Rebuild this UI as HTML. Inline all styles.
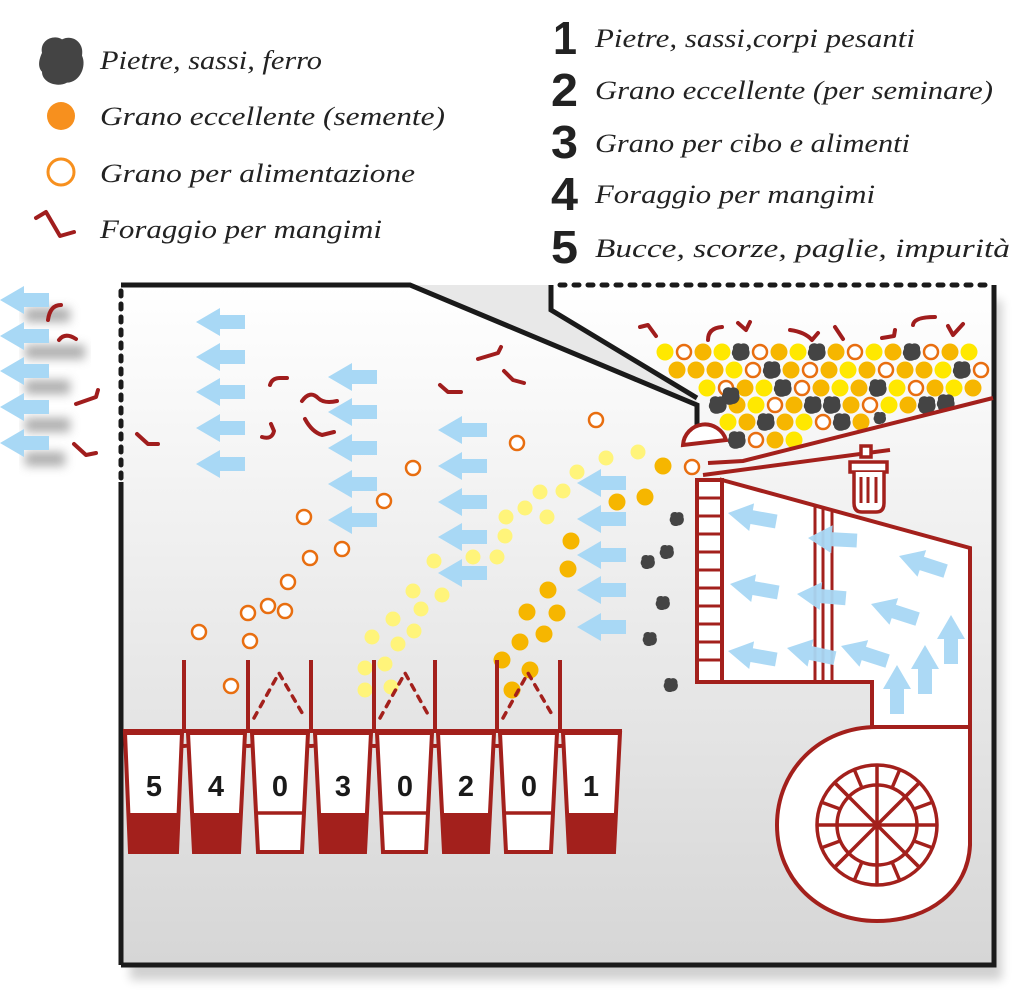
<!DOCTYPE html>
<html><head><meta charset="utf-8"><style>
html,body{margin:0;padding:0;background:#fff;}
svg{display:block;}
.y{fill:#ffe800}.g{fill:#f6b600}.o{fill:#fff;stroke:#e86e10;stroke-width:2.5}.ly{fill:#fff47a}
.lt{font-family:"Liberation Serif",serif;font-style:italic;font-size:26px;fill:#222}
.num{font-family:"Liberation Sans",sans-serif;font-weight:bold;font-size:46px;fill:#222}
.bn{font-family:"Liberation Sans",sans-serif;font-weight:bold;font-size:29px;fill:#1a1a1a}
.sq{fill:none;stroke:#a01d1d;stroke-width:4;stroke-linecap:round;stroke-linejoin:round}
.r{fill:none;stroke:#a3201c;stroke-width:4}
</style></head><body>
<svg width="1024" height="1000" viewBox="0 0 1024 1000" xmlns="http://www.w3.org/2000/svg">
<defs>
<linearGradient id="bg" x1="0" y1="0" x2="0" y2="1"><stop offset="0" stop-color="#ffffff"/><stop offset="1" stop-color="#d6d6d6"/></linearGradient>
<path id="st" d="M-8,-3 C-9,-8 -3,-10 0,-8 C4,-10 9,-7 8,-2 C10,2 7,8 2,8 C-2,10 -8,8 -8,4 C-10,2 -9,-1 -8,-3Z" fill="#444"/>
<path id="ar" d="M0,0 L24,-14 L24,-7 L49,-7 L49,7 L24,7 L24,14 Z" fill="#a8d8f5"/>
<filter id="bl"><feGaussianBlur stdDeviation="5"/></filter>
</defs>
<rect x="130" y="300" width="872" height="680" fill="#000" opacity="0.18" filter="url(#bl)"/>
<rect x="121" y="285" width="873" height="680" fill="url(#bg)"/>
<path d="M410,285 L551,285 L551,310 L697,398 L697,430 L697,405 Z" fill="#e8e8e8"/>
<path d="M121,965 L121,482" stroke="#1a1a1a" stroke-width="5" fill="none"/>
<path d="M121,478 L121,287" stroke="#1a1a1a" stroke-width="5" stroke-dasharray="5 8" stroke-linecap="round" fill="none"/>
<path d="M121,285 L410,285 L697,405 L697,432" stroke="#1a1a1a" stroke-width="5" fill="none"/>
<path d="M551,285 L551,310 L697,398" stroke="#1a1a1a" stroke-width="5" fill="none"/>
<path d="M560,285 L990,285" stroke="#1a1a1a" stroke-width="5" stroke-dasharray="5 9" stroke-linecap="round" fill="none"/>
<path d="M994,285 L994,965 L121,965" stroke="#1a1a1a" stroke-width="5" fill="none"/>

<use href="#st" transform="translate(62,61) scale(2.5,2.7)"/>
<circle cx="61" cy="116" r="14" fill="#f7901e"/>
<circle cx="61" cy="172" r="13" fill="#fff" stroke="#f7901e" stroke-width="3"/>
<path class="sq" d="M36,218 L46,212 L60,236 L74,232" />
<text class="lt" x="100" y="69" textLength="222" lengthAdjust="spacingAndGlyphs">Pietre, sassi, ferro</text>
<text class="lt" x="100" y="125" textLength="345" lengthAdjust="spacingAndGlyphs">Grano eccellente (semente)</text>
<text class="lt" x="100" y="182" textLength="315" lengthAdjust="spacingAndGlyphs">Grano per alimentazione</text>
<text class="lt" x="100" y="238" textLength="282" lengthAdjust="spacingAndGlyphs">Foraggio per mangimi</text>
<text class="num" x="553" y="54" textLength="24" lengthAdjust="spacingAndGlyphs">1</text><text class="lt" x="595" y="47" textLength="320" lengthAdjust="spacingAndGlyphs">Pietre, sassi,corpi pesanti</text>
<text class="num" x="551" y="106" textLength="27" lengthAdjust="spacingAndGlyphs">2</text><text class="lt" x="595" y="99" textLength="398" lengthAdjust="spacingAndGlyphs">Grano eccellente (per seminare)</text>
<text class="num" x="551" y="158" textLength="27" lengthAdjust="spacingAndGlyphs">3</text><text class="lt" x="595" y="152" textLength="315" lengthAdjust="spacingAndGlyphs">Grano per cibo e alimenti</text>
<text class="num" x="551" y="210" textLength="27" lengthAdjust="spacingAndGlyphs">4</text><text class="lt" x="595" y="203" textLength="280" lengthAdjust="spacingAndGlyphs">Foraggio per mangimi</text>
<text class="num" x="551" y="263" textLength="27" lengthAdjust="spacingAndGlyphs">5</text><text class="lt" x="595" y="257" textLength="415" lengthAdjust="spacingAndGlyphs">Bucce, scorze, paglie, impurità</text>

<g filter="url(#bl)" fill="#999" opacity="0.8">
<rect x="25" y="308" width="45" height="14"/><rect x="25" y="345" width="60" height="14"/><rect x="25" y="380" width="45" height="14"/><rect x="25" y="418" width="45" height="14"/><rect x="25" y="452" width="40" height="14"/>
</g>
<use href="#ar" x="0" y="300"/><use href="#ar" x="0" y="336"/><use href="#ar" x="0" y="371"/><use href="#ar" x="0" y="407"/><use href="#ar" x="0" y="443"/>
<path class="sq" d="M48,320 Q50,305 61,305"/><path class="sq" d="M59,340 Q65,332 76,339"/><path class="sq" d="M76,404 L96,397 L98,390"/><path class="sq" d="M74,444 L86,455 L96,453"/>
<path class="sq" d="M137,434 L148,444 L158,444"/>

<use href="#ar" x="196" y="322"/><use href="#ar" x="196" y="357"/><use href="#ar" x="196" y="392"/><use href="#ar" x="196" y="428"/><use href="#ar" x="196" y="464"/>
<use href="#ar" x="328" y="377"/><use href="#ar" x="328" y="412"/><use href="#ar" x="328" y="448"/><use href="#ar" x="328" y="484"/><use href="#ar" x="328" y="520"/>
<use href="#ar" x="438" y="430"/><use href="#ar" x="438" y="466"/><use href="#ar" x="438" y="502"/><use href="#ar" x="438" y="537"/><use href="#ar" x="438" y="573"/>
<use href="#ar" x="577" y="483"/><use href="#ar" x="577" y="519"/><use href="#ar" x="577" y="555"/><use href="#ar" x="577" y="590"/><use href="#ar" x="577" y="627"/>

<path class="sq" d="M270,385 Q272,378 280,378 L287,378"/><path class="sq" d="M302,401 Q310,390 318,398 Q324,404 337,401"/>
<path class="sq" d="M262,437 Q272,440 274,431 L271,424"/><path class="sq" d="M305,419 Q312,432 322,435 L334,432"/>
<path class="sq" d="M440,385 L448,392 L461,392"/><path class="sq" d="M478,359 L498,353 L501,347"/><path class="sq" d="M504,371 L513,380 L524,383"/>

<g class="o">
<circle cx="199" cy="632" r="7"/><circle cx="231" cy="686" r="7"/><circle cx="250" cy="641" r="7"/><circle cx="248" cy="613" r="7"/><circle cx="268" cy="606" r="7"/><circle cx="285" cy="611" r="7"/><circle cx="288" cy="582" r="7"/><circle cx="310" cy="558" r="7"/><circle cx="342" cy="549" r="7"/><circle cx="304" cy="517" r="7"/><circle cx="384" cy="501" r="7"/><circle cx="413" cy="468" r="7"/><circle cx="517" cy="443" r="7"/><circle cx="596" cy="420" r="7"/><circle cx="692" cy="467" r="7"/>
</g>
<g class="ly">
<circle cx="638" cy="452" r="7.5"/><circle cx="606" cy="458" r="7.5"/><circle cx="577" cy="472" r="7.5"/><circle cx="563" cy="491" r="7.5"/><circle cx="540" cy="492" r="7.5"/><circle cx="525" cy="508" r="7.5"/><circle cx="547" cy="517" r="7.5"/><circle cx="506" cy="517" r="7.5"/><circle cx="505" cy="536" r="7.5"/><circle cx="497" cy="557" r="7.5"/><circle cx="473" cy="557" r="7.5"/><circle cx="434" cy="561" r="7.5"/><circle cx="413" cy="591" r="7.5"/><circle cx="442" cy="595" r="7.5"/><circle cx="421" cy="609" r="7.5"/><circle cx="393" cy="619" r="7.5"/><circle cx="414" cy="631" r="7.5"/><circle cx="398" cy="644" r="7.5"/><circle cx="385" cy="664" r="7.5"/><circle cx="391" cy="687" r="7.5"/><circle cx="372" cy="637" r="7.5"/><circle cx="365" cy="668" r="7.5"/><circle cx="365" cy="690" r="7.5"/>
</g>
<g class="g">
<circle cx="663" cy="466" r="8.5"/><circle cx="617" cy="502" r="8.5"/><circle cx="645" cy="497" r="8.5"/><circle cx="571" cy="541" r="8.5"/><circle cx="568" cy="569" r="8.5"/><circle cx="548" cy="590" r="8.5"/><circle cx="527" cy="612" r="8.5"/><circle cx="557" cy="613" r="8.5"/><circle cx="544" cy="634" r="8.5"/><circle cx="520" cy="642" r="8.5"/><circle cx="502" cy="660" r="8.5"/><circle cx="530" cy="670" r="8.5"/><circle cx="512" cy="690" r="8.5"/>
</g>
<use href="#st" transform="translate(677,519) scale(0.8)"/><use href="#st" transform="translate(667,552) scale(0.8)"/><use href="#st" transform="translate(648,562) scale(0.8)"/><use href="#st" transform="translate(663,603) scale(0.8)"/><use href="#st" transform="translate(650,639) scale(0.8)"/><use href="#st" transform="translate(671,685) scale(0.8)"/>

<g class="sq">
<path d="M640,327 L648,325 L656,336"/><path d="M708,340 Q708,328 722,327"/><path d="M738,323 L746,330 L750,322"/><path d="M790,330 Q805,332 812,340 L818,333"/><path d="M835,327 L843,339"/><path d="M882,338 L894,336 L895,330"/><path d="M913,325 Q914,317 935,317"/><path d="M948,326 L953,335 L963,324"/>
</g>
<g class="y"><circle cx="665" cy="352" r="8.5"/><circle cx="722" cy="352" r="8.5"/><circle cx="798" cy="352" r="8.5"/><circle cx="874" cy="352" r="8.5"/><circle cx="969" cy="352" r="8.5"/>
<circle cx="734" cy="370" r="8.5"/><circle cx="848" cy="370" r="8.5"/><circle cx="943" cy="370" r="8.5"/>
<circle cx="707" cy="388" r="8.5"/><circle cx="764" cy="388" r="8.5"/><circle cx="840" cy="388" r="8.5"/><circle cx="897" cy="388" r="8.5"/><circle cx="954" cy="388" r="8.5"/>
<circle cx="756" cy="405" r="8.5"/><circle cx="889" cy="405" r="8.5"/>
<circle cx="728" cy="422" r="8.5"/><circle cx="804" cy="422" r="8.5"/><circle cx="794" cy="440" r="8.5"/></g>
<g class="g"><circle cx="703" cy="352" r="8.5"/><circle cx="779" cy="352" r="8.5"/><circle cx="836" cy="352" r="8.5"/><circle cx="893" cy="352" r="8.5"/><circle cx="950" cy="352" r="8.5"/>
<circle cx="677" cy="370" r="8.5"/><circle cx="696" cy="370" r="8.5"/><circle cx="715" cy="370" r="8.5"/><circle cx="791" cy="370" r="8.5"/><circle cx="829" cy="370" r="8.5"/><circle cx="867" cy="370" r="8.5"/><circle cx="905" cy="370" r="8.5"/><circle cx="924" cy="370" r="8.5"/>
<circle cx="745" cy="388" r="8.5"/><circle cx="821" cy="388" r="8.5"/><circle cx="859" cy="388" r="8.5"/><circle cx="935" cy="388" r="8.5"/><circle cx="973" cy="388" r="8.5"/>
<circle cx="737" cy="405" r="8.5"/><circle cx="794" cy="405" r="8.5"/><circle cx="851" cy="405" r="8.5"/><circle cx="908" cy="405" r="8.5"/>
<circle cx="747" cy="422" r="8.5"/><circle cx="785" cy="422" r="8.5"/><circle cx="861" cy="422" r="8.5"/><circle cx="775" cy="440" r="8.5"/></g>
<g class="o"><circle cx="684" cy="352" r="7"/><circle cx="760" cy="352" r="7"/><circle cx="855" cy="352" r="7"/><circle cx="931" cy="352" r="7"/>
<circle cx="753" cy="370" r="7"/><circle cx="810" cy="370" r="7"/><circle cx="886" cy="370" r="7"/><circle cx="981" cy="370" r="7"/>
<circle cx="726" cy="388" r="7"/><circle cx="802" cy="388" r="7"/><circle cx="916" cy="388" r="7"/>
<circle cx="775" cy="405" r="7"/><circle cx="870" cy="405" r="7"/>
<circle cx="823" cy="422" r="7"/><circle cx="756" cy="440" r="7"/></g>
<use href="#st" x="741" y="352"/><use href="#st" x="817" y="352"/><use href="#st" x="912" y="352"/>
<use href="#st" x="772" y="370"/><use href="#st" x="962" y="370"/>
<use href="#st" x="783" y="388"/><use href="#st" x="878" y="388"/><use href="#st" x="731" y="396"/>
<use href="#st" x="718" y="405"/><use href="#st" x="813" y="405"/><use href="#st" x="832" y="405"/><use href="#st" x="927" y="405"/><use href="#st" x="946" y="403"/>
<use href="#st" x="766" y="422"/><use href="#st" x="842" y="422"/><use href="#st" transform="translate(880,418) scale(0.7)"/><use href="#st" x="737" y="440"/>

<path d="M683,445 A22,22 0 0 1 726,440 Z" fill="#fff" stroke="#a3201c" stroke-width="4"/>
<path class="r" d="M708,463 L743,461 L993,398"/>
<path class="r" d="M703,475 L890,450"/>
<rect x="861" y="446" width="10" height="11" fill="#fff" stroke="#a3201c" stroke-width="3.5"/>
<rect x="850" y="462" width="37" height="10" fill="#fff" stroke="#a3201c" stroke-width="3.5"/>
<path d="M854,472 L854,503 Q854,512 862,512 L876,512 Q884,512 884,503 L884,472" fill="#fff" stroke="#a3201c" stroke-width="3.5"/>
<path d="M861,477 V503 M868,477 V503 M876,477 V503" stroke="#a3201c" stroke-width="3"/>

<path d="M722,480 L970,548 L970,727 L872,727 L872,682 L722,682 Z" fill="#fff" stroke="#a3201c" stroke-width="4"/>
<path d="M815,507 V682 M823,509 V682 M832,512 V682" stroke="#a3201c" stroke-width="3"/>
<rect x="697" y="480" width="25" height="202" fill="#fff" stroke="#a3201c" stroke-width="4"/>
<path d="M697,498 H722 M697,516 H722 M697,534 H722 M697,552 H722 M697,570 H722 M697,588 H722 M697,606 H722 M697,624 H722 M697,642 H722 M697,660 H722" stroke="#a3201c" stroke-width="3"/>
<g opacity="0.95">
<use href="#ar" transform="translate(728,513) rotate(10)"/><use href="#ar" transform="translate(730,584) rotate(10)"/><use href="#ar" transform="translate(728,651) rotate(10)"/>
<use href="#ar" transform="translate(808,538) rotate(3)"/><use href="#ar" transform="translate(797,594) rotate(5)"/><use href="#ar" transform="translate(787,648) rotate(12)"/>
<use href="#ar" transform="translate(899,556) rotate(18)"/><use href="#ar" transform="translate(871,604) rotate(18)"/><use href="#ar" transform="translate(841,646) rotate(18)"/>
<use href="#ar" transform="translate(897,665) rotate(90)"/><use href="#ar" transform="translate(925,645) rotate(90)"/><use href="#ar" transform="translate(951,615) rotate(90)"/>
</g>
<path d="M877,727 L970,727 L970,845 C968,890 930,921 877,921 C820,921 777,880 777,825 C777,770 820,727 877,727 Z" fill="#fff" stroke="#a3201c" stroke-width="4"/>
<g stroke="#a3201c" stroke-width="3.5" fill="none">
<circle cx="877" cy="825" r="60"/><circle cx="877" cy="825" r="40"/>
<path d="M877,765 V885 M817,825 H937 M835,783 L919,867 M919,783 L835,867"/>
<path d="M900,769 L892,788 M919,783 L905,797 M933,802 L914,809 M933,848 L914,841 M919,867 L905,853 M900,881 L892,862 M854,881 L862,862 M835,867 L849,853 M821,848 L840,841 M821,802 L840,809 M835,783 L849,797 M854,769 L862,788"/>
</g>

<g fill="none" stroke="#a3201c" stroke-width="4">
<path d="M123,731 H622"/>
<path d="M184,660 V731 M248,660 V731 M311,660 V731 M374,660 V731 M435,660 V731 M497,660 V731 M560,660 V731"/>
<path d="M169,731 A15,15 0 0 0 199,731 M233,731 A15,15 0 0 0 263,731 M296,731 A15,15 0 0 0 326,731 M359,731 A15,15 0 0 0 389,731 M420,731 A15,15 0 0 0 450,731 M482,731 A15,15 0 0 0 512,731 M545,731 A15,15 0 0 0 575,731"/>
</g>
<g fill="none" stroke="#a3201c" stroke-width="3.5" stroke-dasharray="6 7" stroke-linecap="round">
<path d="M254,718 L279,673 L305,718"/><path d="M380,718 L405,673 L430,718"/><path d="M503,718 L528,673 L554,718"/>
</g>
<g stroke="#a3201c" stroke-width="4" fill="#fff">
<path d="M125,733 L182,733 L177,852 L130,852 Z"/>
<path d="M188,733 L245,733 L239,852 L194,852 Z"/>
<path d="M252,733 L308,733 L302,852 L258,852 Z"/>
<path d="M315,733 L371,733 L365,852 L321,852 Z"/>
<path d="M377,733 L432,733 L426,852 L383,852 Z"/>
<path d="M438,733 L494,733 L488,852 L444,852 Z"/>
<path d="M500,733 L557,733 L551,852 L506,852 Z"/>
<path d="M563,733 L620,733 L614,852 L569,852 Z"/>
</g>
<g fill="#a3201c">
<path d="M128,813 L179,813 L177,852 L130,852 Z"/><path d="M192,813 L241,813 L239,852 L194,852 Z"/>
<path d="M319,813 L367,813 L365,852 L321,852 Z"/><path d="M442,813 L490,813 L488,852 L444,852 Z"/><path d="M567,813 L616,813 L614,852 L569,852 Z"/>
</g>
<g stroke="#a3201c" stroke-width="3.5"><path d="M256,813 H304 M381,813 H428 M504,813 H553"/></g>
<g class="bn" text-anchor="middle">
<text x="154" y="796">5</text><text x="216" y="796">4</text><text x="280" y="796">0</text><text x="343" y="796">3</text><text x="405" y="796">0</text><text x="466" y="796">2</text><text x="529" y="796">0</text><text x="591" y="796">1</text>
</g>
</svg>
</body></html>
